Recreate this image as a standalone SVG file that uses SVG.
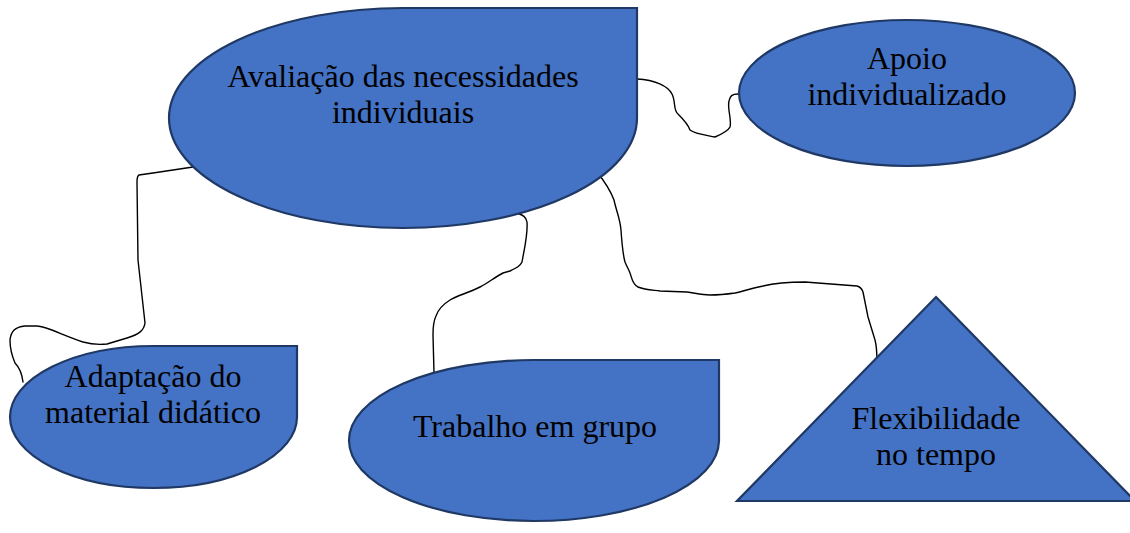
<svg xmlns="http://www.w3.org/2000/svg" width="1130" height="533" viewBox="0 0 1130 533">
<style>
.shape{fill:#4472C4;stroke:#1F3864;stroke-width:2.2}
.lbl{font-family:"Liberation Serif","Times New Roman",serif;font-size:32px;fill:#000;text-anchor:middle}
.conn{fill:none;stroke:#000;stroke-width:1.4;stroke-linejoin:round;stroke-linecap:round}
</style>
<rect width="1130" height="533" fill="#fff"/>
<g id="connectors">
<path class="conn" d="M637,79 C655,80 668,86 672,94 C676,102 673,110 678,114 C684,120 688,124 690,130 C695,134 705,135 715,137 C722,134 728,131 730,127 C732,120 727,108 729,101 C730,96 732,94 738,94"/>
<path class="conn" d="M193,167 L153,173 L139,175 C137,176 137,178 137,182 L138,260 L145,323 C144,330 140,334 127,338 L107,344 C98,345 90,344 83,342 C60,334 45,326 37,326 L25,326 C15,327 11,331 10,340 C10,348 12,356 15,363 C20,368 22,374 23,382"/>
<path class="conn" d="M517,213 C522,215 526,216 527,222 C528,235 524,250 522,262 C520,266 518,267 510,271 L503,273 C495,277 488,283 480,287 C468,293 456,296 450,300 C442,305 438,310 436,316 C433,322 433,328 433,335 L434,373"/>
<path class="conn" d="M597,172 C605,182 611,192 614,200 C616,210 620,218 621,230 C622,245 623,255 625,262 C627,267 629,270 630,273 C632,278 632,284 638,287 C645,290 652,290 660,291 L687,292 C695,293 701,295 710,295 C720,295 728,294 735,293 C745,291 752,288 763,286 C775,283 790,282 805,282 L857,286 C861,287 862,289 863,292 L868,317 L875,340 C877,347 877,355 877,363"/>
</g>
<g id="node-avaliacao">
<path class="shape" d="M403,8 L637,8 L637,118 A234,110 0 1 1 403,8 Z"/>
<text class="lbl" x="403" y="87">Avaliação das necessidades</text>
<text class="lbl" x="403" y="123">individuais</text>
</g>
<g id="node-apoio">
<ellipse class="shape" cx="907" cy="93" rx="168" ry="73"/>
<text class="lbl" x="907" y="69">Apoio</text>
<text class="lbl" x="907" y="105">individualizado</text>
</g>
<g id="node-adaptacao">
<path class="shape" d="M153.5,346 L297,346 L297,417 A143.5,71 0 1 1 153.5,346 Z"/>
<text class="lbl" x="153" y="387">Adaptação do</text>
<text class="lbl" x="153" y="423">material didático</text>
</g>
<g id="node-trabalho">
<path class="shape" d="M534,360 L719,360 L719,441 A185,80.5 0 1 1 534,360 Z"/>
<text class="lbl" x="535" y="437">Trabalho em grupo</text>
</g>
<g id="node-flexibilidade">
<polygon class="shape" points="936,297 1135,501 737,501"/>
<text class="lbl" x="936" y="429">Flexibilidade</text>
<text class="lbl" x="936" y="465">no tempo</text>
</g>
</svg>
